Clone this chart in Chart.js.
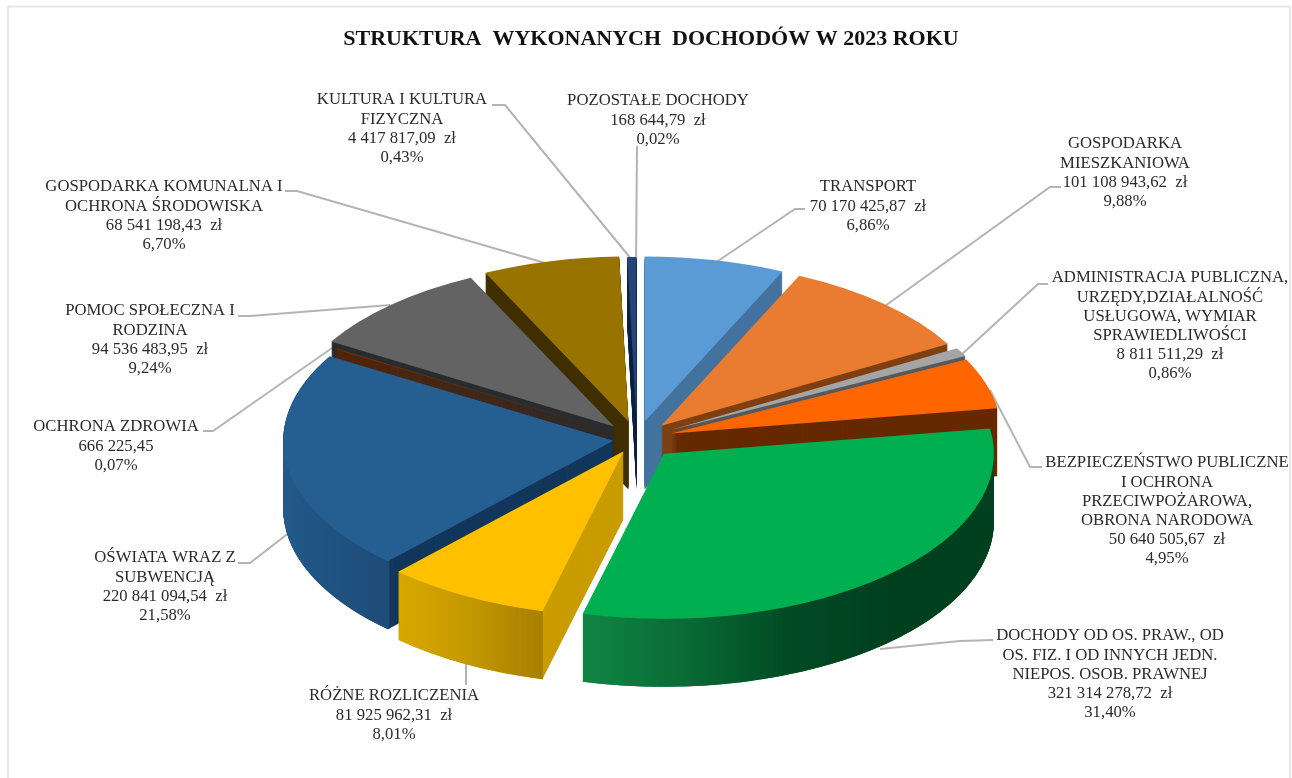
<!DOCTYPE html>
<html>
<head>
<meta charset="utf-8">
<title>Struktura wykonanych dochodów</title>
<script src="https://cdn.jsdelivr.net/npm/chart.js@4/dist/chart.umd.min.js"></script>
<style>
  html, body { margin: 0; padding: 0; background: #fff; }
  canvas { display: block; }
</style>
</head>
<body>
<canvas id="myChart" width="1292" height="778"></canvas>
<script>
//the data, clockwise from 12 o'clock
var categories = [
  ["TRANSPORT"],
  ["GOSPODARKA", "MIESZKANIOWA"],
  ["ADMINISTRACJA PUBLICZNA,", "URZĘDY,DZIAŁALNOŚĆ", "USŁUGOWA, WYMIAR", "SPRAWIEDLIWOŚCI"],
  ["BEZPIECZEŃSTWO PUBLICZNE", "I OCHRONA", "PRZECIWPOŻAROWA,", "OBRONA NARODOWA"],
  ["DOCHODY OD OS. PRAW., OD", "OS. FIZ. I OD INNYCH JEDN.", "NIEPOS. OSOB. PRAWNEJ"],
  ["RÓŻNE ROZLICZENIA"],
  ["OŚWIATA WRAZ Z", "SUBWENCJĄ"],
  ["OCHRONA ZDROWIA"],
  ["POMOC SPOŁECZNA I", "RODZINA"],
  ["GOSPODARKA KOMUNALNA I", "OCHRONA ŚRODOWISKA"],
  ["KULTURA I KULTURA", "FIZYCZNA"],
  ["POZOSTAŁE DOCHODY"]
];
var values = [70170425.87, 101108943.62, 8811511.29, 50640505.67, 321314278.72, 81925962.31,
  220841094.54, 666225.45, 94536483.95, 68541198.43, 4417817.09, 168644.79];
var amountLabels = ["70 170 425,87  zł", "101 108 943,62  zł", "8 811 511,29  zł", "50 640 505,67  zł",
  "321 314 278,72  zł", "81 925 962,31  zł", "220 841 094,54  zł", "666 225,45", "94 536 483,95  zł",
  "68 541 198,43  zł", "4 417 817,09  zł", "168 644,79  zł"];
var percentLabels = ["6,86%", "9,88%", "0,86%", "4,95%", "31,40%", "8,01%", "21,58%", "0,07%", "9,24%",
  "6,70%", "0,43%", "0,02%"];

//colors of each slice
var topColors = ["#5b9bd5", "#e97c30", "#a5a5a5", "#ff6600", "#00b050", "#ffc000", "#255e91", "#7a3200",
  "#636363", "#997300", "#264478", "#1f3864"];
var wallColors = ["#44729e", "#7f4012", "#555a60", "#662900", "#0a6a34", "#c99c00", "#13375b", "#5c2400",
  "#2a2d30", "#3f2f00", "#0f2347", "#0f2347"];
//outer wall gradient, left to right
var rimColors = [null, null, null, null, ["#118544", "#0a6b35", "#004a24", "#00401f", "#00401f"],
  ["#d8a800", "#cf9f00", "#c39800", "#b48a00", "#a88000"], ["#235a8a", "#215583", "#1f5280", "#1f4f7c", "#1e4c78"],
  null, null, null, null, null];
//chart.js moves a slice by a quarter of its offset
var explode = [144, 144, 152, 144, 160, 112, 96, 80, 136, 144, 136, 136];

//the pie laid flat
var flatten = 0.5;
var pieDepth = 68;
var pieCenter = { x: 637, y: 439 };
var pieRadius = 330;

//label centre x, y of the first line
var labelPlaces = [[868, 187], [1125, 144], [1170, 278], [1167, 463], [1110, 636], [394, 696],
  [165, 558], [116, 427], [150, 311], [164, 187], [402, 100], [658, 101]];
//leader lines, the far end goes under the pie
var leaderLines = [
  [[805, 209], [795, 209], [712, 265]],
  [[1061, 187], [1050, 187], [885, 306]],
  [[1048, 284], [1038, 284], [960, 356]],
  [[1042, 467], [1030, 467], [990, 390]],
  [[993, 640], [960, 641], [880, 649]],
  [[466, 660], [466, 685]],
  [[238, 563], [250, 563], [290, 532]],
  [[203, 431], [213, 431], [332, 348]],
  [[238, 316], [250, 316], [390, 305]],
  [[285, 191], [297, 191], [552, 265]],
  [[492, 105], [505, 105], [632, 260]],
  [[637, 146], [636, 262]]
];

var lineHeight = 19.2;

//move the canvas so a flat circle ends up as the tilted top of the pie
function tilt(ctx, arc, drop){
  ctx.translate(pieCenter.x, pieCenter.y + drop);
  ctx.scale(1, flatten);
  ctx.translate(-arc.x, -arc.y);
  var half = (arc.startAngle + arc.endAngle) / 2;
  var off = arc.options.offset / 4;
  ctx.translate(Math.cos(half) * off, Math.sin(half) * off);
}

//draw the arc element in another color, without its own offset handling
function drawArcAs(ctx, arc, color){
  var saved = arc.options;
  arc.options = Object.assign({}, saved, { backgroundColor: color, offset: 0 });
  arc.draw(ctx);
  arc.options = saved;
}

function rimGradient(ctx, arc, stops){
  var minX = Infinity, maxX = -Infinity;
  for(var s = 0; s <= 20; s++){
    var a = arc.startAngle + (arc.endAngle - arc.startAngle) * s / 20;
    var px = arc.x + Math.cos(a) * arc.outerRadius;
    minX = Math.min(minX, px);
    maxX = Math.max(maxX, px);
  }
  var grad = ctx.createLinearGradient(minX, 0, maxX, 0);
  stops.forEach(function(c, i){ grad.addColorStop(i / (stops.length - 1), c); });
  return grad;
}

function drawLeaders(ctx){
  ctx.save();
  ctx.strokeStyle = "#b4b4b4";
  ctx.lineWidth = 2;
  leaderLines.forEach(function(line){
    ctx.beginPath();
    line.forEach(function(p, n){
      if(n === 0){
        ctx.moveTo(p[0], p[1]);
      } else {
        ctx.lineTo(p[0], p[1]);
      }
    });
    ctx.stroke();
  });
  ctx.restore();
}

var pie3d = {
  id: "pie3d",
  beforeDatasetsDraw: function(chart){
    var ctx = chart.ctx;
    var arcs = chart.getDatasetMeta(0).data.map(function(arc, i){ return { arc: arc, i: i }; });

    drawLeaders(ctx);

    //back slices first
    arcs.sort(function(a, b){
      return Math.sin((a.arc.startAngle + a.arc.endAngle) / 2) - Math.sin((b.arc.startAngle + b.arc.endAngle) / 2);
    });

    arcs.forEach(function(item){
      var arc = item.arc, i = item.i;
      for(var d = pieDepth; d > 0; d--){
        ctx.save();
        tilt(ctx, arc, d);
        drawArcAs(ctx, arc, wallColors[i]);
        ctx.restore();
      }
      if(rimColors[i]){
        for(var r = pieDepth; r > 0; r--){
          ctx.save();
          tilt(ctx, arc, r);
          ctx.beginPath();
          ctx.arc(arc.x, arc.y, arc.outerRadius - 1.5, arc.startAngle, arc.endAngle);
          ctx.lineWidth = 3;
          ctx.strokeStyle = rimGradient(ctx, arc, rimColors[i]);
          ctx.stroke();
          ctx.restore();
        }
      }
      ctx.save();
      tilt(ctx, arc, 0);
      drawArcAs(ctx, arc, topColors[i]);
      ctx.restore();
    });
    return false;
  },
  afterDraw: function(chart){
    var ctx = chart.ctx;
    ctx.save();

    //frame of the picture
    ctx.strokeStyle = "#e6e6e6";
    ctx.lineWidth = 2;
    ctx.beginPath();
    ctx.moveTo(8, 778);
    ctx.lineTo(8, 6.5);
    ctx.lineTo(1290, 6.5);
    ctx.lineTo(1290, 778);
    ctx.stroke();

    //labels
    ctx.fillStyle = "#2b2b2b";
    ctx.font = "16.7px 'Liberation Serif'";
    ctx.textAlign = "center";
    ctx.textBaseline = "middle";
    categories.forEach(function(lines, i){
      var all = lines.concat([amountLabels[i], percentLabels[i]]);
      all.forEach(function(text, n){
        ctx.fillText(text, labelPlaces[i][0], labelPlaces[i][1] + n * lineHeight);
      });
    });
    ctx.restore();
  }
};

var myChart = new Chart(document.getElementById("myChart"), {
  type: "pie",
  plugins: [pie3d],
  data: {
    labels: categories.map(function(c){ return c.join(" "); }),
    datasets: [{
      data: values,
      backgroundColor: topColors,
      borderWidth: 0,
      offset: explode,
      radius: pieRadius
    }]
  },
  options: {
    responsive: false,
    animation: false,
    events: [],
    layout: { padding: { left: 10 } },
    plugins: {
      legend: { display: false },
      tooltip: { enabled: false },
      title: {
        display: true,
        text: "STRUKTURA  WYKONANYCH  DOCHODÓW W 2023 ROKU",
        color: "#111",
        font: { family: "'Liberation Serif'", size: 22, weight: "bold" },
        padding: { top: 26, bottom: 10 }
      }
    }
  }
});
</script>
</body>
</html>
